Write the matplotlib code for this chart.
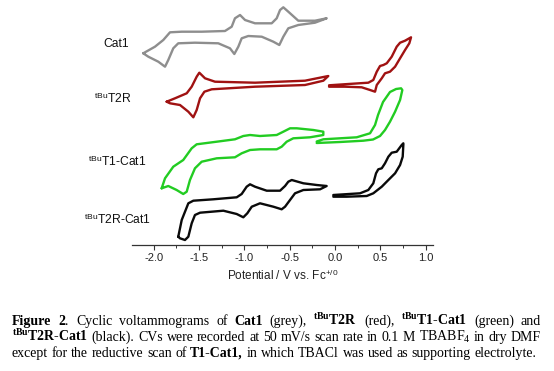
import matplotlib
matplotlib.use("Agg")
import matplotlib.pyplot as plt
from matplotlib.ticker import MultipleLocator

plt.rcParams['font.family'] = ['Liberation Sans', 'DejaVu Sans']
plt.rcParams['axes.unicode_minus'] = False
plt.rcParams['mathtext.fontset'] = 'custom'
plt.rcParams['mathtext.rm'] = 'Liberation Serif'
plt.rcParams['mathtext.bf'] = 'Liberation Serif:bold'
plt.rcParams['mathtext.it'] = 'Liberation Serif:italic'
plt.rcParams['mathtext.sf'] = 'Liberation Sans'

# --- data: potential (V vs Fc+/0) and current (arb. units) ---
# Cat1 (grey), reductive scan
cat1_E = [-2.114, -1.985, -1.893, -1.819, -1.690, -1.470, -1.213, -1.139, -1.103, -1.047,
          -0.992, -0.882, -0.698, -0.643, -0.606, -0.570, -0.515, -0.405, -0.221, -0.092,
          -0.221, -0.405, -0.515, -0.570, -0.614, -0.680, -0.808, -0.956, -1.029, -1.066,
          -1.110, -1.158, -1.287, -1.544, -1.728, -1.783, -1.838, -1.874, -1.948, -2.058, -2.114]
cat1_I = [-8.3, -1.7, 5, 12.7, 13.3, 13.3, 14, 18.3, 26.7, 30,
          25, 21.7, 21.7, 26.7, 35, 37.7, 33.3, 24.3, 24.3, 26.7,
          22.3, 20, 16.7, 8.3, 0, 3.3, 8.3, 9, 6.7, -1.7,
          -9, -3.3, 1.7, 2.3, 1.7, -3.3, -15, -21.7, -16.7, -11.7, -8.3]

# tBuT2R (red), reductive + oxidative scans
t2r_red_E = [-1.856, -1.764, -1.635, -1.580, -1.525, -1.496, -1.433, -1.323, -0.882, -0.331,
             -0.074, -0.129, -0.331, -0.882, -1.359, -1.440, -1.488, -1.525, -1.562, -1.617,
             -1.709, -1.819, -1.856]
t2r_red_I = [-16.7, -13.3, -8.3, -1.7, 8.3, 12.3, 6.7, 3.3, 2.3, 4.3,
             9, 4.3, 0, -1.7, -4.3, -6.7, -13.3, -25, -32.3, -26.7,
             -20, -18.3, -16.7]
t2r_ox_E = [-0.066, 0.147, 0.367, 0.422, 0.460, 0.496, 0.533, 0.570, 0.625, 0.680,
            0.717, 0.772, 0.838, 0.819, 0.772, 0.717, 0.662, 0.606, 0.551, 0.515,
            0.460, 0.441, 0.386, 0.294, 0.110, -0.066]
t2r_ox_I = [-0.3, 1, 2.3, 5, 13.3, 19, 20, 21.7, 28.3, 38.3,
            42.3, 44.3, 47.7, 41.7, 35, 26.7, 18.3, 13.3, 11.7, 6.7,
            0, -6.7, -5, -2.3, -1.7, -1.7]

# tBuT1-Cat1 (green)
t1_red_E = [-1.911, -1.874, -1.783, -1.673, -1.580, -1.525, -1.304, -1.103, -1.011, -0.937,
            -0.827, -0.643, -0.570, -0.496, -0.422, -0.239, -0.129, -0.129, -0.276, -0.460,
            -0.533, -0.588, -0.643, -0.827, -0.937, -1.029, -1.103, -1.304, -1.470, -1.544,
            -1.599, -1.635, -1.673, -1.746, -1.838, -1.911]
t1_red_I = [-33.3, -23.3, -11.7, -5, 6.7, 10.7, 13.3, 15.7, 19, 20,
            19, 20, 23.3, 26.7, 26.7, 25, 23.3, 20, 17.7, 16.7,
            13.3, 8.3, 5.7, 5.7, 5, 1.7, -2.3, -3.3, -6.7, -13.3,
            -25, -36.7, -39, -35, -31, -33.3]
t1_ox_E = [-0.202, -0.129, 0.239, 0.386, 0.441, 0.474, 0.529, 0.606, 0.673, 0.728,
           0.742, 0.717, 0.662, 0.606, 0.551, 0.496, 0.419, 0.312, 0.055, -0.202]
t1_ox_I = [13.5, 15.7, 17.7, 21.7, 30, 40, 53, 63, 66, 66.7,
           65, 55, 43.3, 33.3, 25, 19, 15.5, 14.3, 13, 12]

# tBuT2R-Cat1 (black)
t2rc_red_E = [-1.728, -1.690, -1.617, -1.562, -1.342, -1.084, -1.029, -0.974, -0.937, -0.882,
              -0.753, -0.606, -0.551, -0.515, -0.477, -0.349, -0.202, -0.092, -0.165, -0.349,
              -0.441, -0.496, -0.551, -0.588, -0.680, -0.827, -0.918, -0.967, -1.011, -1.084,
              -1.231, -1.488, -1.544, -1.580, -1.617, -1.654, -1.709, -1.728]
t2rc_red_I = [-26.7, -10, 6.7, 9.3, 10.7, 12.7, 16, 23.3, 25.7, 23.3,
              19.3, 19.3, 24, 28.3, 30, 26.7, 25, 24, 20.7, 20,
              16.7, 10, 3.3, 0.7, 3.3, 6.7, 3.3, -3.3, -7.3, -4,
              -0.7, -2.7, -5, -13.3, -26.7, -30, -28.3, -26.7]
t2rc_ox_E = [-0.019, 0.276, 0.367, 0.422, 0.452, 0.477, 0.515, 0.551, 0.588, 0.625,
             0.680, 0.735, 0.753, 0.753, 0.746, 0.717, 0.662, 0.588, 0.515, 0.422,
             0.349, 0.129, -0.019]
t2rc_ox_I = [15, 16.7, 20, 26.7, 36.7, 40.7, 41.7, 46.7, 53.3, 57.3,
             58.3, 65, 66.7, 65, 53.3, 45, 36.7, 30, 23.3, 16.7,
             14, 13.3, 13.3]

labels = ['Cat1', r'$^{\mathsf{tBu}}$T2R', r'$^{\mathsf{tBu}}$T1-Cat1', r'$^{\mathsf{tBu}}$T2R-Cat1']
colors = ['#8e8e8e', '#a01212', '#22cc22', '#0a0a0a']
offsets = [200, 160, 90, 35]   # vertical stacking of the traces

W, H = 554, 371
fig = plt.figure(figsize=(W / 100, H / 100), dpi=100)
ax = fig.add_axes([132 / W, 1 - 245 / H, (433 - 132) / W, 240 / H])

traces = [
    [(cat1_E, cat1_I)],
    [(t2r_red_E, t2r_red_I), (t2r_ox_E, t2r_ox_I)],
    [(t1_red_E, t1_red_I), (t1_ox_E, t1_ox_I)],
    [(t2rc_red_E, t2rc_red_I), (t2rc_ox_E, t2rc_ox_I)],
]
for segs, c, off in zip(traces, colors, offsets):
    for E, I in segs:
        ax.plot(E, [i + off for i in I], color=c, lw=1.7,
                solid_joinstyle='round', solid_capstyle='round')

ax.set_xlim(-2.238, 1.08)
ax.set_ylim(0, 240)
for s in ['left', 'right', 'top']:
    ax.spines[s].set_visible(False)
ax.spines['bottom'].set_color('#333333')
ax.spines['bottom'].set_linewidth(0.9)
ax.set_yticks([])
ax.xaxis.set_major_locator(MultipleLocator(0.5))
ax.xaxis.set_minor_locator(MultipleLocator(0.25))
ax.tick_params(axis='x', which='major', length=3.5, width=0.8, color='#333333',
               labelsize=8, pad=2, labelcolor='#222222')
ax.tick_params(axis='x', which='minor', length=2, width=0.7, color='#333333')
ax.set_xlabel(r'Potential / V vs. Fc$^{\mathsf{+/0}}$', fontsize=8.5, labelpad=4, color='#222222')

# trace labels (right edge x, baseline y in pixels)
lab_pos = [(129, 47), (131, 103), (146, 166), (151, 224)]
for t, (px, py) in zip(labels, lab_pos):
    fig.text(px / W, 1 - py / H, t, ha='right', va='baseline', fontsize=8.7, color='#111111')

# --- justified caption ---
cap_lines = [
    [("Figure", 'bold'), (r"$\mathbf{2}$.", 'normal'), ("Cyclic", 'normal'), ("voltammograms", 'normal'),
     ("of", 'normal'), ("Cat1", 'bold'), ("(grey),", 'normal'), (r"$^{\mathbf{tBu}}$T2R", 'bold'),
     ("(red),", 'normal'), (r"$^{\mathbf{tBu}}$T1-Cat1", 'bold'), ("(green)", 'normal'), ("and", 'normal')],
    [(r"$^{\mathbf{tBu}}$T2R-Cat1", 'bold'), ("(black).", 'normal'), ("CVs", 'normal'), ("were", 'normal'),
     ("recorded", 'normal'), ("at", 'normal'), ("50", 'normal'), ("mV/s", 'normal'), ("scan", 'normal'),
     ("rate", 'normal'), ("in", 'normal'), ("0.1", 'normal'), ("M", 'normal'), (r"TBABF$_4$", 'normal'),
     ("in", 'normal'), ("dry", 'normal'), ("DMF", 'normal')],
    [("except", 'normal'), ("for", 'normal'), ("the", 'normal'), ("reductive", 'normal'), ("scan", 'normal'),
     ("of", 'normal'), ("T1-Cat1,", 'bold'), ("in", 'normal'), ("which", 'normal'), ("TBACl", 'normal'),
     ("was", 'normal'), ("used", 'normal'), ("as", 'normal'), ("supporting", 'normal'), ("electrolyte.", 'normal')],
]
cap_left, cap_right = 12, 541
baselines = [325, 341, 357]
fs = 10.0
renderer = fig.canvas.get_renderer()

cap_texts = []
for words, yb in zip(cap_lines, baselines):
    row = []
    for w, wt in words:
        t = fig.text(0, 1 - yb / H, w, fontsize=fs, fontweight=wt,
                     family='Liberation Serif', va='baseline', ha='left')
        row.append(t)
    cap_texts.append(row)


def widths(row):
    return [t.get_window_extent(renderer).width for t in row]


# width of a space, measured once and then removed
t_aa = fig.text(0, 0, 'a a', fontsize=fs, family='Liberation Serif')
t_a = fig.text(0, 0, 'a', fontsize=fs, family='Liberation Serif')
sp_w = t_aa.get_window_extent(renderer).width - 2 * t_a.get_window_extent(renderer).width
t_aa.remove()
t_a.remove()

# scale font so that the last (unjustified) line fills the width
nat = sum(widths(cap_texts[2])) + sp_w * (len(cap_texts[2]) - 1)
scale = (cap_right - cap_left) / nat * 0.995
for row in cap_texts:
    for t in row:
        t.set_fontsize(fs * scale)
sp_w *= scale

for i, row in enumerate(cap_texts):
    ws = widths(row)
    if i < len(cap_texts) - 1:
        gap = (cap_right - cap_left - sum(ws)) / (len(row) - 1)
    else:
        gap = sp_w
    x = cap_left
    for t, w in zip(row, ws):
        t.set_x(x / W)
        x += w + gap

fig.savefig('out.png', dpi=100)
